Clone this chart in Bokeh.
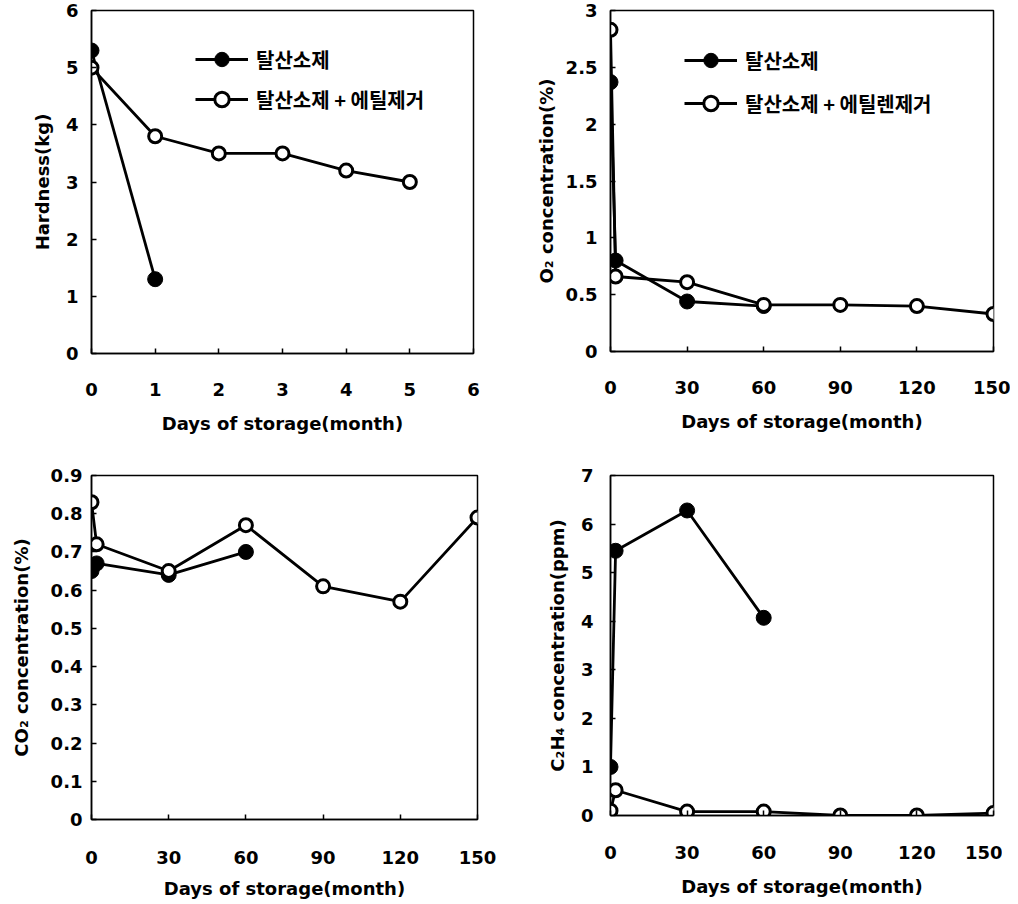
from bokeh.plotting import figure
from bokeh.layouts import gridplot
from bokeh.models import FixedTicker, NumeralTickFormatter, Legend, LegendItem, Range1d
from bokeh.embed import file_html
from bokeh.resources import INLINE

# ---------------- data ----------------
LABEL_FILLED = "탈산소제"
LABEL_OPEN_1 = "탈산소제 + 에틸제거"
LABEL_OPEN_2 = "탈산소제 + 에틸렌제거"

# Hardness (months)
hard_x_filled = [0, 1]
hard_y_filled = [5.3, 1.3]
hard_x_open = [0, 1, 2, 3, 4, 5]
hard_y_open = [5.0, 3.8, 3.5, 3.5, 3.2, 3.0]

# O2 concentration
o2_x_filled = [0, 2, 30, 60]
o2_y_filled = [2.37, 0.80, 0.44, 0.40]
o2_x_open = [0, 2, 30, 60, 90, 120, 150]
o2_y_open = [2.83, 0.66, 0.61, 0.41, 0.41, 0.40, 0.33]

# CO2 concentration
co2_x_filled = [0, 2, 30, 60]
co2_y_filled = [0.65, 0.67, 0.64, 0.70]
co2_x_open = [0, 2, 30, 60, 90, 120, 150]
co2_y_open = [0.83, 0.72, 0.65, 0.77, 0.61, 0.57, 0.79]

# C2H4 concentration
eth_x_filled = [0, 2, 30, 60]
eth_y_filled = [1.0, 5.45, 6.28, 4.07]
eth_x_open = [0, 2, 30, 60, 90, 120, 150]
eth_y_open = [0.10, 0.52, 0.08, 0.08, 0.0, 0.0, 0.05]

x_ticks_month = [0, 1, 2, 3, 4, 5, 6]
x_ticks_day = [0, 30, 60, 90, 120, 150]
hard_ticks = [0, 1, 2, 3, 4, 5, 6]
o2_ticks = [0, 0.5, 1, 1.5, 2, 2.5, 3]
co2_ticks = [0, 0.1, 0.2, 0.3, 0.4, 0.5, 0.6, 0.7, 0.8, 0.9]
eth_ticks = [0, 1, 2, 3, 4, 5, 6, 7]

X_TITLE = "Days of storage(month)"

FONT = "DejaVu Sans"
KFONT = "Noto Sans CJK KR"


def make_panel(xf, yf, xo, yo, xr, yr, xt, yt, ytitle,
               frame_w, frame_h, bl, br, bt, bb,
               ystand, ylab_stand, xstand, xlab_stand,
               legend_spec=None):
    p = figure(frame_width=frame_w, frame_height=frame_h,
               min_border_left=bl, min_border_right=br,
               min_border_top=bt, min_border_bottom=bb,
               x_range=Range1d(*xr), y_range=Range1d(*yr),
               output_backend="svg", toolbar_location=None,
               background_fill_color="white", border_fill_color="white")
    p.xgrid.visible = False
    p.ygrid.visible = False
    p.outline_line_color = "black"
    p.outline_line_width = 1.5

    for ax in (p.xaxis[0], p.yaxis[0]):
        ax.axis_line_color = "black"
        ax.axis_line_width = 1.5
        ax.major_tick_in = 5
        ax.major_tick_out = 0
        ax.major_tick_line_color = "black"
        ax.major_tick_line_width = 1.5
        ax.minor_tick_line_color = None
        ax.major_label_text_font = FONT
        ax.major_label_text_font_style = "bold"
        ax.major_label_text_font_size = "18px"
        ax.major_label_text_color = "black"
        ax.axis_label_text_font = FONT
        ax.axis_label_text_font_style = "bold"
        ax.axis_label_text_font_size = "18px"
        ax.axis_label_text_color = "black"
        ax.formatter = NumeralTickFormatter(format="0.[0]")

    p.xaxis[0].ticker = FixedTicker(ticks=xt)
    p.yaxis[0].ticker = FixedTicker(ticks=yt)
    p.xaxis[0].axis_label = X_TITLE
    p.yaxis[0].axis_label = ytitle
    p.xaxis[0].major_label_standoff = xstand
    p.xaxis[0].axis_label_standoff = xlab_stand
    p.yaxis[0].major_label_standoff = ystand
    p.yaxis[0].axis_label_standoff = ylab_stand

    lf = p.line(xf, yf, line_color="black", line_width=2.8)
    sf = p.scatter(xf, yf, size=15, fill_color="black", line_color="black", line_width=1)
    lo = p.line(xo, yo, line_color="black", line_width=2.8)
    so = p.scatter(xo, yo, size=13, fill_color="white", line_color="black", line_width=3)

    if legend_spec is not None:
        label2, loc, spacing = legend_spec
        leg = Legend(items=[LegendItem(label=LABEL_FILLED, renderers=[lf, sf]),
                            LegendItem(label=label2, renderers=[lo, so])],
                     location=loc, orientation="vertical",
                     glyph_width=53, glyph_height=36, label_height=36,
                     spacing=spacing, padding=0, margin=0,
                     label_standoff=8,
                     border_line_alpha=0, background_fill_alpha=0,
                     label_text_font=KFONT, label_text_font_style="bold",
                     label_text_font_size="20px", label_text_color="black")
        p.add_layout(leg)
    return p


p1 = make_panel(hard_x_filled, hard_y_filled, hard_x_open, hard_y_open,
                (0, 6), (0, 6), x_ticks_month, hard_ticks, "Hardness(kg)",
                382, 343, 85, 65, 10, 89,
                13, 10, 29, 14,
                legend_spec=(LABEL_OPEN_1, (104, 236), 4))
p2 = make_panel(o2_x_filled, o2_y_filled, o2_x_open, o2_y_open,
                (0, 150), (0, 3), x_ticks_day, o2_ticks, "O\u2082 concentration(%)",
                383, 341, 70, 17, 10, 91,
                13, 6, 29, 14,
                legend_spec=(LABEL_OPEN_2, (74, 230), 7))
p3 = make_panel(co2_x_filled, co2_y_filled, co2_x_open, co2_y_open,
                (0, 150), (0, 0.9), x_ticks_day, co2_ticks, "CO\u2082 concentration(%)",
                386, 344, 91, 55, 33, 69,
                9, 16, 31, 11)
p4 = make_panel(eth_x_filled, eth_y_filled, eth_x_open, eth_y_open,
                (0, 150), (0, 7), x_ticks_day, eth_ticks, "C\u2082H\u2084 concentration(ppm)",
                383, 340, 69, 18, 33, 73,
                17, 10, 30, 14)

grid = gridplot([[p1, p2], [p3, p4]], toolbar_location=None)

open("out.html", "w").write(file_html(grid, INLINE))
